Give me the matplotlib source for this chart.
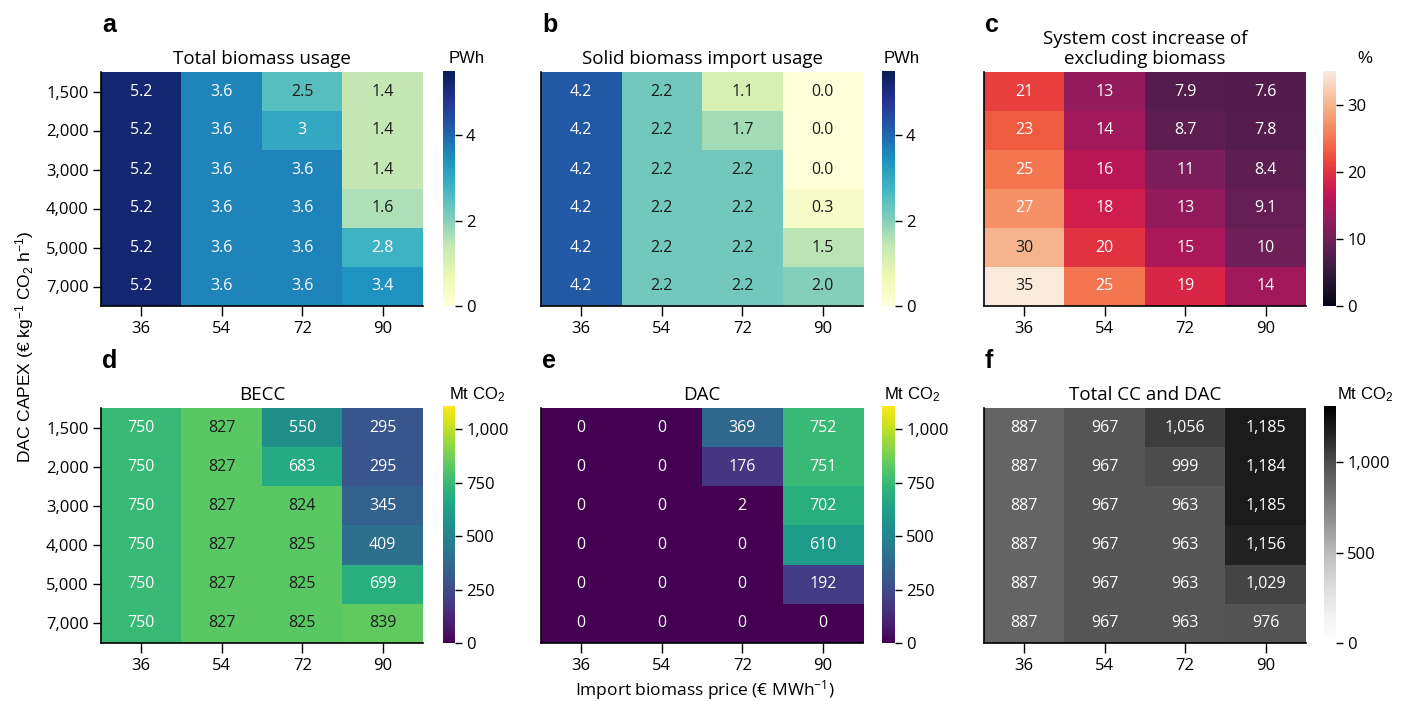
import numpy as np
import matplotlib
matplotlib.use("Agg")
import matplotlib.pyplot as plt
from matplotlib.ticker import FuncFormatter
import seaborn as sns  # for the rocket colormap

plt.rcParams['font.family'] = ['Open Sans', 'DejaVu Sans']
plt.rcParams['mathtext.default'] = 'regular'

# Axes categories
dac_capex = ['1,500', '2,000', '3,000', '4,000', '5,000', '7,000']
import_price = ['36', '54', '72', '90']

# Panel data (rows = DAC CAPEX, cols = import biomass price)
total_biomass = [[5.2, 3.6, 2.5, 1.4],
                 [5.2, 3.6, 3.0, 1.4],
                 [5.2, 3.6, 3.6, 1.4],
                 [5.2, 3.6, 3.6, 1.6],
                 [5.2, 3.6, 3.6, 2.8],
                 [5.2, 3.6, 3.6, 3.4]]
solid_import = [[4.2, 2.2, 1.1, 0.0],
                [4.2, 2.2, 1.7, 0.0],
                [4.2, 2.2, 2.2, 0.0],
                [4.2, 2.2, 2.2, 0.3],
                [4.2, 2.2, 2.2, 1.5],
                [4.2, 2.2, 2.2, 2.0]]
cost_increase = [[21, 13, 7.9, 7.6],
                 [23, 14, 8.7, 7.8],
                 [25, 16, 11, 8.4],
                 [27, 18, 13, 9.1],
                 [30, 20, 15, 10],
                 [35, 25, 19, 14]]
becc = [[750, 827, 550, 295],
        [750, 827, 683, 295],
        [750, 827, 824, 345],
        [750, 827, 825, 409],
        [750, 827, 825, 699],
        [750, 827, 825, 839]]
dac = [[0, 0, 369, 752],
       [0, 0, 176, 751],
       [0, 0, 2, 702],
       [0, 0, 0, 610],
       [0, 0, 0, 192],
       [0, 0, 0, 0]]
total_cc = [[887, 967, 1056, 1185],
            [887, 967, 999, 1184],
            [887, 967, 963, 1185],
            [887, 967, 963, 1156],
            [887, 967, 963, 1029],
            [887, 967, 963, 976]]

W, H = 1410, 701
fig = plt.figure(figsize=(W / 100, H / 100), dpi=100)


def px_axes(x0, y0, x1, y1):
    return fig.add_axes([x0 / W, 1 - y1 / H, (x1 - x0) / W, (y1 - y0) / H])


def luminance(rgba):
    rgb = np.array(rgba[:3])
    rgb = np.where(rgb <= 0.03928, rgb / 12.92, ((rgb + 0.055) / 1.055) ** 2.4)
    return 0.2126 * rgb[0] + 0.7152 * rgb[1] + 0.0722 * rgb[2]


def heatmap(box, cbox, data, cmap, vmax, fmt, title, cticks, letter, unit, unit_x,
            show_y):
    data = np.array(data, dtype=float)
    ax = px_axes(*box)
    cmap = plt.get_cmap(cmap)
    im = ax.imshow(data, cmap=cmap, vmin=0, vmax=vmax, aspect='auto',
                   interpolation='nearest')
    for i in range(data.shape[0]):
        for j in range(data.shape[1]):
            c = cmap(data[i, j] / vmax)
            col = '#1c1c1c' if luminance(c) > 0.408 else 'white'
            ax.text(j, i, fmt(data[i, j]), ha='center', va='center',
                    fontsize=11.5, color=col)
    ax.set_xticks(range(len(import_price)))
    ax.set_xticklabels(import_price)
    ax.set_yticks(range(len(dac_capex)))
    ax.set_yticklabels(dac_capex if show_y else [])
    if not show_y:
        ax.tick_params(axis='y', left=False)
    ax.tick_params(axis='x', length=7, width=1, labelsize=12, pad=4)
    ax.tick_params(axis='y', length=6, width=1, labelsize=12, pad=3)
    for s in ['top', 'right']:
        ax.spines[s].set_visible(False)
    for s in ['left', 'bottom']:
        ax.spines[s].set_linewidth(1.2)
    ax.set_title(title, fontsize=13.5, pad=6, linespacing=1.1)

    cax = px_axes(*cbox)
    cb = fig.colorbar(im, cax=cax)
    cb.outline.set_visible(False)
    cb.set_ticks(cticks)
    cb.ax.yaxis.set_major_formatter(FuncFormatter(lambda v, p: f'{v:,.0f}'))
    cb.ax.tick_params(length=5, width=1, labelsize=12, pad=3)

    fig.text(unit_x / W, 1 - (box[1] - 9) / H, unit, fontsize=12,
             family=['Liberation Sans', 'DejaVu Sans'], va='baseline')
    fig.text((box[0] + 1) / W, 1 - (box[1] - 40) / H, letter, fontsize=18,
             fontweight='bold', family=['Liberation Sans', 'DejaVu Sans'],
             va='baseline')
    return ax


g2 = lambda v: f'{v:.2g}'
f1 = lambda v: f'{v:.1f}'
f0 = lambda v: f'{v:,.0f}'

heatmap((101, 72, 423, 306), (443, 71, 455, 306), total_biomass, 'YlGnBu', 5.5,
        g2, 'Total biomass usage', [0, 2, 4], 'a', 'PWh', 449, True)
heatmap((541, 72, 863, 306), (882, 71, 895, 306), solid_import, 'YlGnBu', 5.5,
        f1, 'Solid biomass import usage', [0, 2, 4], 'b', 'PWh', 884, False)
heatmap((984, 72, 1306, 306), (1323, 71, 1336, 306), cost_increase, 'rocket', 35,
        g2, 'System cost increase of\nexcluding biomass', [0, 10, 20, 30], 'c',
        '%', 1357, False)
heatmap((101, 408, 423, 643), (443, 406, 455, 643), becc, 'viridis', 1110,
        f0, 'BECC', [0, 250, 500, 750, 1000], 'd', 'Mt CO$_2$', 449, True)
heatmap((541, 408, 863, 643), (882, 406, 895, 643), dac, 'viridis', 1110,
        f0, 'DAC', [0, 250, 500, 750, 1000], 'e', 'Mt CO$_2$', 884, False)
heatmap((984, 408, 1306, 643), (1324, 406, 1336, 643), total_cc, 'Greys', 1310,
        f0, 'Total CC and DAC', [0, 500, 1000], 'f', 'Mt CO$_2$', 1337, False)

fig.text(25 / W, 1 - 347 / H, 'DAC CAPEX (€ kg$^{-1}$ CO$_2$ h$^{-1}$)',
         rotation=90, ha='center', va='center', fontsize=12.5,
         family=['Liberation Sans', 'DejaVu Sans'])
fig.text(705 / W, 1 - 695 / H, 'Import biomass price (€ MWh$^{-1}$)',
         ha='center', va='baseline', fontsize=12.5)

fig.savefig('out.png', dpi=100)
